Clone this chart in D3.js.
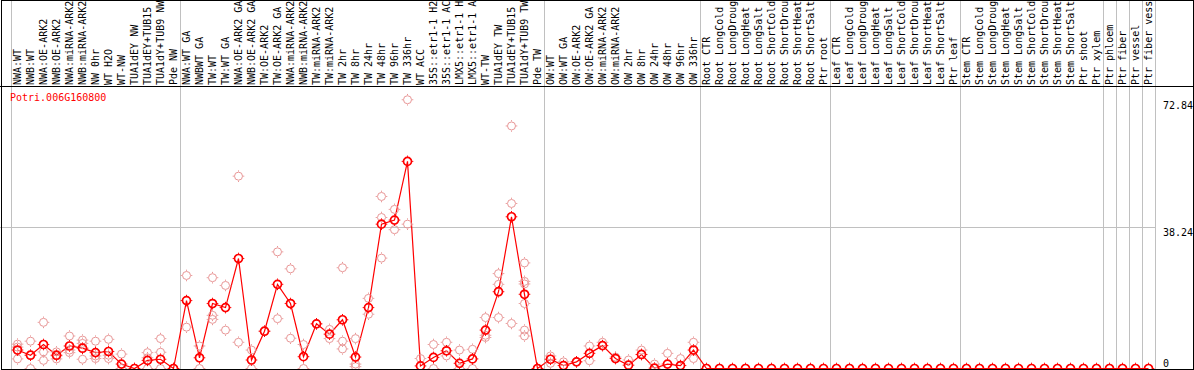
<!DOCTYPE html>
<html>
<head>
<meta charset="utf-8">
<script src="https://cdn.jsdelivr.net/npm/d3@7"></script>
<style>
	body { margin: 0; background: #fff; }
	svg { display: block; font-family: "DejaVu Sans Mono", monospace; font-size: 10px; }
</style>
</head>
<body>
<svg id="chart" width="1194" height="370"></svg>
<script>

var geneName = "Potri.006G160800";

// Sample names as they appear in the header (cut to the header height)
var sampleLabels = [
	"NWA:WT", "NWB:WT", "NWA:OE-ARK2", "NWB:OE-ARK2", "NWA:miRNA-ARK2", "NWB:miRNA-ARK2", "NW 0hr", "WT H2O", "WT-NW", "TUA1dEY NW", "TUA1dEY+TUB15", "TUA1dY+TUB9 NW", "Pde NW",
	"NWA:WT GA", "NWBWT GA", "TW:WT", "TW:WT GA", "NWA:OE-ARK2 GA", "NWB:OE-ARK2 GA", "TW:OE-ARK2", "TW:OE-ARK2 GA", "NWA:miRNA-ARK2", "NWB:miRNA-ARK2", "TW:miRNA-ARK2", "TW:miRNA-ARK2",
	"TW 2hr", "TW 8hr", "TW 24hr", "TW 48hr", "TW 96hr", "TW 336hr", "WT ACC", "35S::etr1-1 H2", "35S::etr1-1 AC", "LMX5::etr1-1 H", "LMX5::etr1-1 A", "WT-TW", "TUA1dEY TW", "TUA1dEY+TUB15", "TUA1dY+TUB9 TW", "Pde TW",
	"OW:WT", "OW:WT GA", "OW:OE-ARK2", "OW:OE-ARK2 GA", "OW:miRNA-ARK2", "OW:miRNA-ARK2", "OW 2hr", "OW 8hr", "OW 24hr", "OW 48hr", "OW 96hr", "OW 336hr",
	"Root CTR", "Root LongCold", "Root LongDroug", "Root LongHeat", "Root LongSalt", "Root ShortCold", "Root ShortDrou", "Root ShortHeat", "Root ShortSalt", "Ptr root",
	"Leaf CTR", "Leaf LongCold", "Leaf LongDroug", "Leaf LongHeat", "Leaf LongSalt", "Leaf ShortCold", "Leaf ShortDrou", "Leaf ShortHeat", "Leaf ShortSalt", "Ptr leaf",
	"Stem CTR", "Stem LongCold", "Stem LongDroug", "Stem LongHeat", "Stem LongSalt", "Stem ShortCold", "Stem ShortDrou", "Stem ShortHeat", "Stem ShortSalt", "Ptr shoot", "Ptr xylem",
	"Ptr phloem", "Ptr fiber", "Ptr vessel", "Ptr fiber vess"
];

var groupSizes = [ 13, 28, 12, 10, 10, 11, 1, 1, 1, 1 ];

var meanValues = [
	5.0, 3.6, 6.5, 3.6, 6.1, 5.5, 4.3, 4.6, 1.2, 0, 2.2, 2.5, 0,
	18.4, 2.9, 17.6, 16.5, 29.8, 2.3, 10.1, 22.8, 17.6, 3.2, 12.1, 9.3,
	13.2, 3.1, 16.5, 39.1, 40.2, 56.1, 0.7, 3.0, 4.8, 1.4, 2.6, 10.4, 20.8, 41.1, 20.1, 0,
	2.5, 0.8, 1.8, 4.1, 6.2, 2.7, 0.9, 3.8, 0.1, 1.2, 0.8, 5.0,
	0, 0, 0, 0, 0, 0, 0, 0, 0, 0,
	0, 0, 0, 0, 0, 0, 0, 0, 0, 0,
	0, 0, 0, 0, 0, 0, 0, 0, 0, 0, 0,
	0, 0, 0, 0
];

var replicateValues = [
	[ 6.6, 5.8, 2.6 ], [ 7.4, 3.6, 0 ], [ 12.5, 4.5, 2.2 ], [ 4.5, 3.4, 2.6 ], [ 8.8, 5.0, 4.3 ], [ 7.7, 6.8, 2.5 ],
	[ 7.4, 3.4, 2.7 ], [ 7.9, 3.6, 2.7 ], [ 3.9, 0 ], [ 0 ], [ 4.3, 2.9, 0 ], [ 8.1, 4.4, 0 ], [ 0 ],
	[ 25.2, 11.2 ], [ 6.1, 0 ], [ 24.6, 14.4, 13.3 ], [ 22.5, 10.4 ], [ 52.1, 7.1 ], [ 5.0, 0 ], [ 10.1 ],
	[ 31.6, 13.5 ], [ 27.0, 8.2 ], [ 6.5, 0 ], [ 12.1 ], [ 10.6, 8.1 ],
	[ 27.3, 7.4, 5.3 ], [ 8.1, 1.2, 0.5 ], [ 19.0, 14.7 ], [ 46.6, 40.9, 29.9 ], [ 43.1, 37.6 ], [ 72.8, 39.1 ],
	[ 2.7 ], [ 6.5, 0 ], [ 7.1, 3.4 ], [ 5.0, 0 ], [ 5.2, 0 ], [ 13.8, 9.0, 8.4 ], [ 25.7, 22.8, 13.8 ],
	[ 65.7, 44.7, 12.2 ], [ 28.6, 23.6, 22.9, 17.6, 10.4, 8.8 ], [ 0 ],
	[ 3.4, 1.4 ], [ 1.8 ], [ 1.8 ], [ 6.1, 2.1 ], [ 7.1 ], [ 3.1 ], [ 2.3 ], [ 5.0, 3.8 ], [ 1.2 ], [ 4.1 ], [ 2.7 ], [ 7.1, 2.7 ]
];

var yTicks = [ 0, 38.24, 72.84 ];

var width = 1194;
var height = 370;
var plotLeft = 11;
var plotRight = 1155;
var headerBottom = 86;

var svg = d3.select( "#chart" );

var scale = {
	x: d3.scaleBand()
		.domain( d3.range( sampleLabels.length ) )
		.range( [ plotLeft, plotRight ] ),
	y: d3.scaleLinear()
		.domain( [ 0, 72.84 ] )
		.range( [ 368.5, 99.6 ] )
};

var bw = scale.x.bandwidth();
var cx = function( i ) { return scale.x( i ) + bw / 2; };

// Group boundaries
//
var bounds = [ 0 ];
groupSizes.forEach( function( n ) { bounds.push( bounds[ bounds.length - 1 ] + n ); } );

svg.append( "g" )
	.selectAll( "line" )
	.data( bounds )
	.enter()
	.append( "line" )
	.attr( "x1", function( b ) { return Math.round( plotLeft + b * bw ) + 0.5; } )
	.attr( "x2", function( b ) { return Math.round( plotLeft + b * bw ) + 0.5; } )
	.attr( "y1", 0 )
	.attr( "y2", height )
	.attr( "stroke", "#c0c0c0" );

svg.append( "g" )
	.selectAll( "line" )
	.data( yTicks.filter( function( t ) { return t > 0 && t < 72.84; } ) )
	.enter()
	.append( "line" )
	.attr( "x1", 0 )
	.attr( "x2", plotRight )
	.attr( "y1", function( t ) { return Math.round( scale.y( t ) ) + 0.5; } )
	.attr( "y2", function( t ) { return Math.round( scale.y( t ) ) + 0.5; } )
	.attr( "stroke", "#c0c0c0" );

// Title
//
svg.append( "text" )
	.attr( "x", 10 )
	.attr( "y", 100.5 )
	.attr( "fill", "#ff0000" )
	.text( geneName );

// Mean line
//
var line = d3.line()
	.x( function( d, i ) { return cx( i ); } )
	.y( function( d ) { return scale.y( d ); } );

svg.append( "path" )
	.datum( meanValues )
	.attr( "d", line )
	.attr( "fill", "none" )
	.attr( "stroke", "#ff0000" )
	.attr( "stroke-width", 1.2 );

var marker = function( sel, color, sw )
{
	sel.append( "circle" )
		.attr( "r", 4 )
		.attr( "fill", "none" )
		.attr( "stroke", color )
		.attr( "stroke-width", sw );
	sel.append( "path" )
		.attr( "d", "M0,-5.8V-4.6M0,4.6V5.8M-5.8,0H-4.6M4.6,0H5.8" )
		.attr( "stroke", color )
		.attr( "stroke-width", 1 );
};

// Replicates
//
var reps = [];
replicateValues.forEach( function( vals, i ) {
	vals.forEach( function( v ) { reps.push( { i: i, v: v } ); } );
} );

svg.append( "g" )
	.attr( "class", "reps" )
	.selectAll( "g" )
	.data( reps )
	.enter()
	.append( "g" )
	.attr( "transform", function( d ) { return "translate(" + cx( d.i ) + "," + scale.y( d.v ) + ")"; } )
	.call( marker, "#e89696", 1 );

// Means
//
svg.append( "g" )
	.attr( "class", "means" )
	.selectAll( "g" )
	.data( meanValues )
	.enter()
	.append( "g" )
	.attr( "transform", function( d, i ) { return "translate(" + cx( i ) + "," + scale.y( d ) + ")"; } )
	.call( marker, "#ff0000", 1.7 );

// Header labels
//
svg.append( "g" )
	.selectAll( "text" )
	.data( sampleLabels )
	.enter()
	.append( "text" )
	.attr( "transform", function( d, i ) { return "translate(" + ( cx( i ) + 3.5 ) + "," + 85 + ") rotate(-90)"; } )
	.attr( "fill", "#000" )
	.text( function( d ) { return d; } );

// Y labels
//
var yAxis = svg.append( "g" )
	.attr( "transform", "translate(" + plotRight + ",0)" )
	.call( d3.axisRight( scale.y ).tickValues( yTicks ).tickSize( 0 ).tickPadding( 8 ).tickFormat( function( t ) { return String( t ); } ) );

yAxis.select( ".domain" ).remove();
yAxis.selectAll( "text" )
	.attr( "font-family", "DejaVu Sans Mono, monospace" )
	.attr( "font-size", 10 )
	.attr( "fill", "#000" )
	.attr( "dy", function( t ) { return t == 0 ? "-0.25em" : "0.85em"; } );

// Frame
//
svg.append( "line" )
	.attr( "x1", 0 )
	.attr( "x2", width )
	.attr( "y1", headerBottom + 0.5 )
	.attr( "y2", headerBottom + 0.5 )
	.attr( "stroke", "#000" );

svg.append( "rect" )
	.attr( "x", 1.5 )
	.attr( "y", 0.5 )
	.attr( "width", 1192 )
	.attr( "height", 369 )
	.attr( "fill", "none" )
	.attr( "stroke", "#000" );

</script>
</body>
</html>
